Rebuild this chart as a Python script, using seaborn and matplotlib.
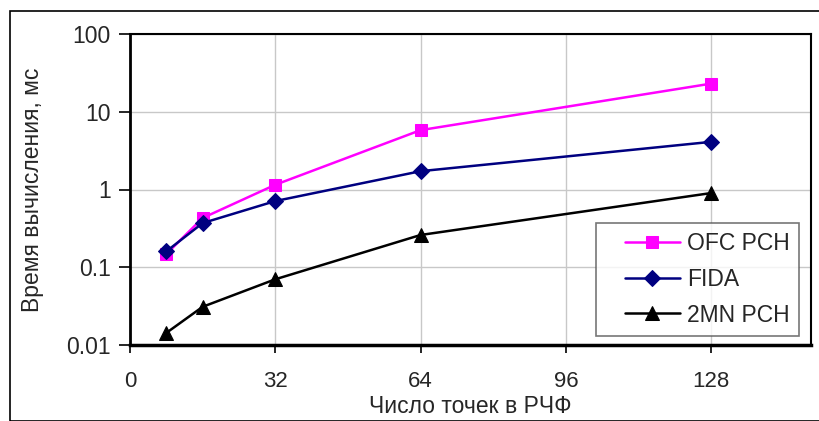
import matplotlib
matplotlib.use("Agg")
import matplotlib.pyplot as plt
import seaborn as sns
import pandas as pd
from matplotlib.patches import Rectangle
from matplotlib.lines import Line2D
from matplotlib.legend_handler import HandlerLine2D

points = [8, 16, 32, 64, 128]
ofc_pch = [0.148, 0.43, 1.15, 5.8, 23.0]
fida = [0.16, 0.37, 0.71, 1.72, 4.1]
mn2_pch = [0.0143, 0.031, 0.070, 0.26, 0.90]
series_names = ["OFC PCH", "FIDA", "2MN PCH"]
x_ticks = [0, 32, 64, 96, 128]
y_ticks = [0.01, 0.1, 1, 10, 100]
y_tick_labels = ["0.01", "0.1", "1", "10", "100"]

df = pd.DataFrame({
    "x": points * 3,
    "y": ofc_pch + fida + mn2_pch,
    "s": [series_names[0]] * 5 + [series_names[1]] * 5 + [series_names[2]] * 5,
})

sns.set_style("white")
plt.rcParams["font.family"] = ["Liberation Sans", "DejaVu Sans"]

fig = plt.figure(figsize=(8.19, 4.21), dpi=100)
ax = fig.add_axes([130/819, 1-345/421, (811-130)/819, (345-34)/421])

palette = {"OFC PCH": "#FF00FF", "FIDA": "#000080", "2MN PCH": "#000000"}
markers = {"OFC PCH": "s", "FIDA": "D", "2MN PCH": "^"}
sizes = {"OFC PCH": 9, "FIDA": 8, "2MN PCH": 10}
for name in series_names:
    sub = df[df["s"] == name]
    sns.lineplot(data=sub, x="x", y="y", ax=ax, color=palette[name],
                 marker=markers[name], markersize=sizes[name],
                 markeredgecolor=palette[name], linewidth=1.8, label=name)

ax.set_yscale("log")
ax.set_xlim(0, 150)
ax.set_ylim(0.01, 100)
ax.set_xticks(x_ticks)
ax.set_yticks(y_ticks)
ax.set_yticklabels(y_tick_labels)
ax.minorticks_off()
ax.grid(True, color="#c8c8c8", linewidth=1)
ax.set_axisbelow(True)
for sp in ax.spines.values():
    sp.set_color("black")
    sp.set_linewidth(1.5)
ax.spines["left"].set_linewidth(2)
ax.spines["bottom"].set_linewidth(2.5)
ax.tick_params(axis="both", width=1.2, color="black",
               direction="out", left=True, bottom=True)
ax.tick_params(axis="y", labelsize=16.5, pad=6, length=8)
ax.tick_params(axis="x", labelsize=16, pad=13, length=6)
ax.set_xlabel("Число точек в РЧФ", fontsize=16.5, labelpad=2)
ax.set_ylabel("Время вычисления, мс", fontsize=16.5, labelpad=16)

leg = ax.legend(loc="lower right", bbox_to_anchor=(0.982, 0.03), fontsize=16.5,
                frameon=True, fancybox=False, edgecolor="#555555",
                handlelength=3.25, handletextpad=0.3, borderpad=0.4,
                labelspacing=0.55, borderaxespad=0,
                handler_map={Line2D: HandlerLine2D(xpad=0.85)})
leg.get_frame().set_linewidth(1.2)

fig.patches.append(Rectangle((10/819, 0), 1, 1-11/421, transform=fig.transFigure,
                             fill=False, edgecolor="black", linewidth=1.2))

fig.savefig("out.png", dpi=100)
